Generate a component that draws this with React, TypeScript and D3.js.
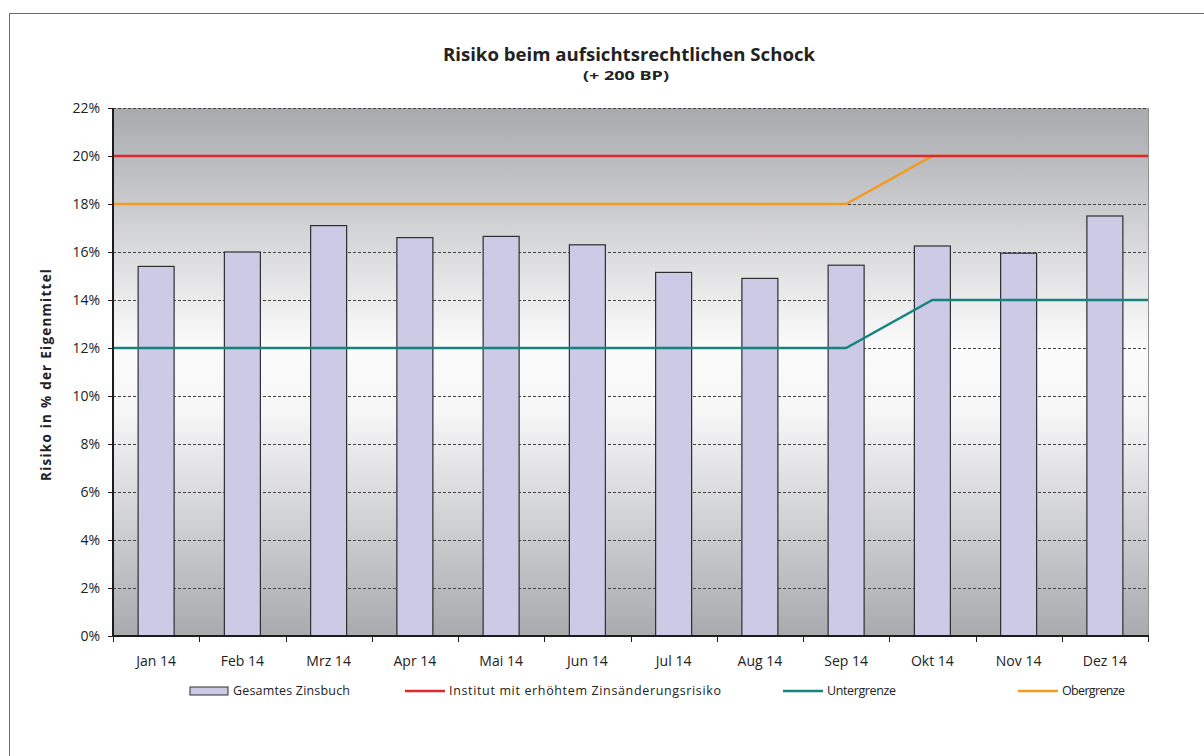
import React, { useRef, useEffect, useCallback } from 'react';
import * as d3 from 'd3';

const months = ['Jan 14', 'Feb 14', 'Mrz 14', 'Apr 14', 'Mai 14', 'Jun 14', 'Jul 14', 'Aug 14', 'Sep 14', 'Okt 14', 'Nov 14', 'Dez 14'];
const zinsbuch = [15.4, 16.0, 17.1, 16.6, 16.65, 16.3, 15.15, 14.9, 15.45, 16.25, 15.95, 17.5];
const institut = [20, 20, 20, 20, 20, 20, 20, 20, 20, 20, 20, 20];
const untergrenze = [12, 12, 12, 12, 12, 12, 12, 12, 12, 14, 14, 14];
const obergrenze = [18, 18, 18, 18, 18, 18, 18, 18, 18, 20, 20, 20];
const yTicks = [0, 2, 4, 6, 8, 10, 12, 14, 16, 18, 20, 22];

const FONT = '"Open Sans", "DejaVu Sans", sans-serif';

const App = ({ width = 1204, height = 756 }) => {
  const svgRef = useRef<SVGSVGElement | null>(null);

  const draw = useCallback((node: SVGSVGElement) => {
    const svg = d3.select(node);
    svg.selectAll('*').remove();

    const margin = { left: 113, right: 1148, top: 108, bottom: 636 };

    const x = d3.scaleBand<string>()
      .domain(months)
      .range([margin.left, margin.right])
      .paddingInner(0)
      .paddingOuter(0);
    const y = d3.scaleLinear().domain([0, 22]).range([margin.bottom, margin.top]);

    // gradient background
    const defs = svg.append('defs');
    const grad = defs.append('linearGradient')
      .attr('id', 'bg')
      .attr('x1', 0).attr('y1', 0).attr('x2', 0).attr('y2', 1);
    grad.append('stop').attr('offset', '0%').attr('stop-color', '#a9aaae');
    grad.append('stop').attr('offset', '45%').attr('stop-color', '#fbfbfb');
    grad.append('stop').attr('offset', '58%').attr('stop-color', '#f6f6f7');
    grad.append('stop').attr('offset', '100%').attr('stop-color', '#a9aaae');

    // outer frame (only top/left visible)
    svg.append('rect')
      .attr('x', 9.5).attr('y', 13.5)
      .attr('width', width + 20).attr('height', height + 20)
      .attr('fill', 'none')
      .attr('stroke', '#6d6d6d')
      .attr('stroke-width', 1);

    svg.append('rect')
      .attr('x', margin.left).attr('y', margin.top)
      .attr('width', margin.right - margin.left)
      .attr('height', margin.bottom - margin.top)
      .attr('fill', 'url(#bg)');

    // right border of plot
    svg.append('line')
      .attr('x1', margin.right + 0.5).attr('x2', margin.right + 0.5)
      .attr('y1', margin.top).attr('y2', margin.bottom)
      .attr('stroke', '#8f8f92').attr('stroke-width', 1);

    // gridlines
    svg.append('g')
      .selectAll('line')
      .data(yTicks.filter(d => d > 0))
      .enter()
      .append('line')
      .attr('x1', margin.left).attr('x2', margin.right)
      .attr('y1', d => Math.round(y(d)) + 0.5)
      .attr('y2', d => Math.round(y(d)) + 0.5)
      .attr('stroke', '#444')
      .attr('stroke-width', 1)
      .attr('stroke-dasharray', '3,2');

    // bars
    const bw = 36;
    svg.append('g')
      .selectAll('rect')
      .data(zinsbuch)
      .enter()
      .append('rect')
      .attr('x', (d, i) => (x(months[i]) as number) + x.bandwidth() / 2 - bw / 2)
      .attr('y', d => y(d))
      .attr('width', bw)
      .attr('height', d => y(0) - y(d))
      .attr('fill', '#cccae5')
      .attr('stroke', '#2e2e30')
      .attr('stroke-width', 1.2);

    // lines: extend to plot edges
    const linePts = (vals: number[]) => {
      const pts: [number, number][] = vals.map((v, i) => [(x(months[i]) as number) + x.bandwidth() / 2, y(v)]);
      pts.unshift([margin.left, y(vals[0])]);
      pts.push([margin.right, y(vals[vals.length - 1])]);
      return pts;
    };
    const lineGen = d3.line();
    const series = [
      { vals: obergrenze, color: '#f39a1f' },
      { vals: institut, color: '#e3262c' },
      { vals: untergrenze, color: '#17837f' },
    ];
    series.forEach(s => {
      svg.append('path')
        .attr('d', lineGen(linePts(s.vals)))
        .attr('fill', 'none')
        .attr('stroke', s.color)
        .attr('stroke-width', 2.4);
    });

    // y axis
    svg.append('line')
      .attr('x1', margin.left).attr('x2', margin.left)
      .attr('y1', margin.top).attr('y2', margin.bottom + 1)
      .attr('stroke', '#1c1c1c').attr('stroke-width', 2);
    const yAxis = svg.append('g');
    yTicks.forEach(t => {
      yAxis.append('line')
        .attr('x1', margin.left - 5).attr('x2', margin.left)
        .attr('y1', Math.round(y(t)) + 0.5).attr('y2', Math.round(y(t)) + 0.5)
        .attr('stroke', '#1c1c1c');
      yAxis.append('text')
        .attr('x', margin.left - 13)
        .attr('y', y(t))
        .attr('dy', '0.35em')
        .attr('text-anchor', 'end')
        .style('font-family', FONT)
        .style('font-size', '14px')
        .attr('fill', '#222')
        .text(`${t}%`);
    });

    // x axis
    svg.append('line')
      .attr('x1', margin.left).attr('x2', margin.right + 1)
      .attr('y1', margin.bottom).attr('y2', margin.bottom)
      .attr('stroke', '#1c1c1c').attr('stroke-width', 2);
    const xAxis = svg.append('g');
    d3.range(months.length + 1).forEach(i => {
      const xx = Math.round(margin.left + i * x.step()) + 0.5;
      xAxis.append('line')
        .attr('x1', xx).attr('x2', xx)
        .attr('y1', margin.bottom).attr('y2', margin.bottom + 6)
        .attr('stroke', '#1c1c1c');
    });
    months.forEach(m => {
      xAxis.append('text')
        .attr('x', (x(m) as number) + x.bandwidth() / 2)
        .attr('y', 666)
        .attr('text-anchor', 'middle')
        .style('font-family', FONT)
        .style('font-size', '14px')
        .attr('fill', '#222')
        .text(m);
    });

    // axis title
    svg.append('text')
      .attr('transform', `translate(51,375) rotate(-90)`)
      .attr('text-anchor', 'middle')
      .attr('textLength', 212)
      .attr('lengthAdjust', 'spacing')
      .style('font-family', FONT)
      .style('font-size', '13.5px')
      .style('font-weight', 700)
      .attr('fill', '#222')
      .text('Risiko in % der Eigenmittel');

    // title
    svg.append('text')
      .attr('x', 629).attr('y', 61)
      .attr('text-anchor', 'middle')
      .attr('textLength', 372)
      .attr('lengthAdjust', 'spacingAndGlyphs')
      .style('font-family', FONT)
      .style('font-size', '17px')
      .style('font-weight', 700)
      .attr('fill', '#222')
      .text('Risiko beim aufsichtsrechtlichen Schock');
    svg.append('text')
      .attr('x', 626).attr('y', 80)
      .attr('text-anchor', 'middle')
      .attr('textLength', 86)
      .attr('lengthAdjust', 'spacingAndGlyphs')
      .style('font-family', FONT)
      .style('font-size', '13px')
      .style('font-weight', 700)
      .attr('fill', '#222')
      .text('(+ 200 BP)');

    // legend
    const legend = svg.append('g');
    const ly = 691;
    legend.append('rect')
      .attr('x', 190).attr('y', ly - 4).attr('width', 38).attr('height', 8)
      .attr('fill', '#cccae5').attr('stroke', '#2e2e30').attr('stroke-width', 1);
    legend.append('text').attr('x', 233).attr('y', ly).attr('dy', '0.35em')
      .attr('textLength', 117).attr('lengthAdjust', 'spacing')
      .style('font-family', FONT).style('font-size', '12.5px').attr('fill', '#222')
      .text('Gesamtes Zinsbuch');
    const legLines = [
      { x: 405, color: '#e3262c', label: 'Institut mit erhöhtem Zinsänderungsrisiko', len: 272 },
      { x: 783, color: '#17837f', label: 'Untergrenze', len: 69 },
      { x: 1018, color: '#f39a1f', label: 'Obergrenze', len: 63 },
    ];
    legLines.forEach(l => {
      legend.append('line')
        .attr('x1', l.x).attr('x2', l.x + 40)
        .attr('y1', ly).attr('y2', ly)
        .attr('stroke', l.color).attr('stroke-width', 2.4);
      legend.append('text').attr('x', l.x + 44).attr('y', ly).attr('dy', '0.35em')
        .attr('textLength', l.len).attr('lengthAdjust', 'spacing')
        .style('font-family', FONT).style('font-size', '12.5px').attr('fill', '#222')
        .text(l.label);
    });
  }, [width, height]);

  useEffect(() => {
    if (svgRef.current) draw(svgRef.current);
  }, [draw]);

  return (
    <svg
      ref={svgRef}
      width={width}
      height={height}
      style={{ position: 'absolute', left: 0, top: 0, background: '#fff' }}
    />
  );
};

export default App;
